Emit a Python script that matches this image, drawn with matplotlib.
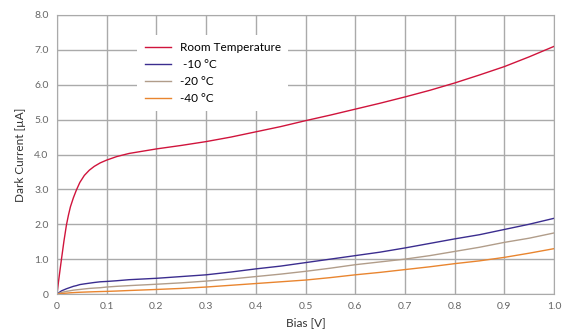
import matplotlib.pyplot as plt
import numpy as np

plt.rc("font", family="Lato", size=8)

crimson = "#d0143c"
indigo = "#3b2d8f"
tan = "#b19d8a"
orange = "#e9852f"

bias = [0, 0.003, 0.006, 0.009, 0.014, 0.019, 0.023, 0.027, 0.033, 0.039, 0.046,
        0.055, 0.065, 0.075, 0.087, 0.1, 0.12, 0.145, 0.2, 0.25, 0.3, 0.35, 0.4,
        0.45, 0.5, 0.55, 0.6, 0.65, 0.7, 0.75, 0.8, 0.85, 0.9, 0.95, 1.0]
room_temp = [0, 0.35, 0.68, 1.0, 1.52, 1.98, 2.26, 2.5, 2.76, 2.98, 3.2,
             3.4, 3.55, 3.66, 3.76, 3.84, 3.94, 4.03, 4.16, 4.26, 4.37, 4.5, 4.65,
             4.8, 4.97, 5.13, 5.3, 5.47, 5.65, 5.84, 6.05, 6.28, 6.52, 6.8, 7.1]
minus_10 = [0, 0.03, 0.06, 0.09, 0.12, 0.15, 0.17, 0.19, 0.22, 0.24, 0.27,
            0.29, 0.31, 0.33, 0.35, 0.36, 0.38, 0.41, 0.45, 0.5, 0.55, 0.63, 0.72,
            0.8, 0.9, 1.0, 1.1, 1.2, 1.32, 1.45, 1.58, 1.7, 1.85, 2.0, 2.17]
minus_20 = [0, 0.015, 0.03, 0.045, 0.06, 0.075, 0.085, 0.095, 0.11, 0.12, 0.13,
            0.145, 0.16, 0.17, 0.18, 0.2, 0.22, 0.24, 0.28, 0.32, 0.37, 0.43, 0.5,
            0.57, 0.65, 0.74, 0.84, 0.92, 1.0, 1.1, 1.22, 1.34, 1.48, 1.6, 1.75]
minus_40 = [0, 0.005, 0.01, 0.015, 0.02, 0.025, 0.03, 0.035, 0.04, 0.045, 0.05,
            0.055, 0.06, 0.065, 0.07, 0.075, 0.085, 0.1, 0.13, 0.16, 0.2, 0.25, 0.3,
            0.35, 0.4, 0.47, 0.55, 0.62, 0.7, 0.78, 0.87, 0.95, 1.05, 1.17, 1.3]

xticks = [0, 0.1, 0.2, 0.3, 0.4, 0.5, 0.6, 0.7, 0.8, 0.9, 1.0]
xlabels = ["0", "0.1", "0.2", "0.3", "0.4", "0.5", "0.6", "0.7", "0.8", "0.9", "1.0"]
yticks = [0, 1, 2, 3, 4, 5, 6, 7, 8]
ylabels = ["0", "1.0", "2.0", "3.0", "4.0", "5.0", "6.0", "7.0", "8.0"]

fig = plt.figure(figsize=(5.69, 3.36), dpi=100)
ax = fig.add_axes([57 / 569, 42 / 336, 497 / 569, 279 / 336])

ax.plot(bias, room_temp, color=crimson, lw=1, label="Room Temperature")
ax.plot(bias, minus_10, color=indigo, lw=1, label=" -10 °C")
ax.plot(bias, minus_20, color=tan, lw=1, label="-20 °C")
ax.plot(bias, minus_40, color=orange, lw=1, label="-40 °C")

ax.set_xlim(0, 1.0)
ax.set_ylim(0, 8.0)
ax.set_xticks(xticks, xlabels)
ax.set_yticks(yticks, ylabels)
ax.tick_params(length=0, colors="#666666", labelsize=7.5, pad=6)
ax.grid(True, color="#aaaaaa", lw=1)
ax.set_axisbelow(True)
for s in ax.spines.values():
    s.set_color("#aaaaaa")
ax.set_xlabel("Bias [V]", color="#333333", fontsize=8.5, labelpad=4)
ax.set_ylabel("Dark Current [µA]", color="#333333", fontsize=8.5, labelpad=6)

leg = ax.legend(loc="upper left", bbox_to_anchor=(0.15, 0.95), frameon=True,
                fancybox=False, edgecolor="white", framealpha=1, fontsize=8.5,
                handlelength=2.2, labelspacing=0.5, borderpad=0.6)
leg.get_frame().set_linewidth(0)

fig.savefig("out.png", dpi=100)
